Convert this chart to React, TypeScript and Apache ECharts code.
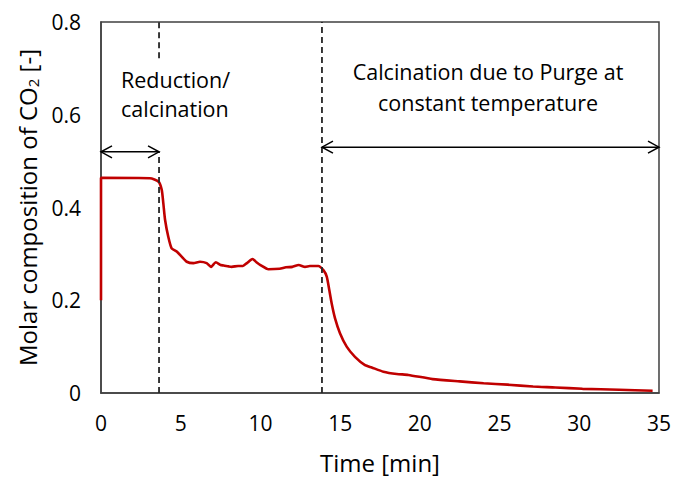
import React, { useEffect, useRef } from "react";
import * as echarts from "echarts";

// Outlet CO2 molar fraction over time
const timeMin = [
  0, 0, 0.05, 3.07, 3.6, 3.81, 3.91, 4.02, 4.22, 4.43, 4.75, 5.06, 5.38, 5.79, 6.21, 6.63,
  6.9, 7.2, 7.5, 7.7, 8.0, 8.2, 8.6, 8.9, 9.15, 9.5, 9.75, 10.0, 10.5, 11.2, 11.6, 12.0, 12.4,
  12.8, 13.1, 13.63, 13.95, 14.16, 14.32, 14.47, 14.68, 14.99, 15.41, 15.93, 16.56, 16.98,
  17.71, 18.55, 19.28, 20.8, 22.5, 24.0, 25.5, 27.1, 28.5, 30.2, 32.5, 34.6,
];
const co2Fraction = [
  0.2, 0.464, 0.464, 0.463, 0.456, 0.438, 0.409, 0.373, 0.337, 0.312, 0.305, 0.294, 0.283,
  0.28, 0.283, 0.28, 0.272, 0.282, 0.276, 0.275, 0.273, 0.272, 0.274, 0.274, 0.28, 0.289,
  0.282, 0.276, 0.267, 0.268, 0.271, 0.272, 0.276, 0.272, 0.274, 0.274, 0.265, 0.251, 0.222,
  0.193, 0.161, 0.129, 0.1, 0.078, 0.06, 0.055, 0.046, 0.041, 0.039, 0.03, 0.025, 0.021, 0.018,
  0.014, 0.012, 0.009, 0.007, 0.005,
];

// Phase boundaries (min) and the dashed divider segments: [time, yFrom, yTo]
const phaseBoundaries = [3.64, 13.86];
const dividerSegments = [
  [phaseBoundaries[0], 0, 0.52],
  [phaseBoundaries[0], 0.722, 0.8],
  [phaseBoundaries[1], 0, 0.8],
];
// Double-headed span arrows: [tStart, tEnd, y]
const spanArrows = [
  [0, phaseBoundaries[0], 0.52],
  [phaseBoundaries[1], 35, 0.53],
];

const FONT = "Open Sans";

export default function App() {
  const ref = useRef<HTMLDivElement>(null);

  useEffect(() => {
    document.body.style.margin = "0";
    const chart = echarts.init(ref.current!, null, { renderer: "svg" });

    const option: echarts.EChartsOption = {
      animation: false,
      backgroundColor: "#ffffff",
      grid: {
        left: 101,
        right: 15,
        top: 22,
        bottom: 87,
        show: true,
        borderColor: "#404040",
        borderWidth: 1.5,
      },
      xAxis: {
        type: "value",
        min: 0,
        max: 35,
        interval: 5,
        name: "Time [min]",
        nameLocation: "middle",
        nameGap: 57,
        nameTextStyle: { fontFamily: FONT, fontSize: 24, color: "#000" },
        axisLine: { show: true, lineStyle: { color: "#404040", width: 1.5 } },
        axisTick: { show: false },
        splitLine: { show: false },
        axisLabel: { fontFamily: FONT, fontSize: 21, color: "#000", margin: 19 },
      },
      yAxis: {
        type: "value",
        min: 0,
        max: 0.8,
        interval: 0.2,
        name: "Molar composition of CO{sub|2} [-]",
        nameLocation: "middle",
        nameGap: 60,
        nameTextStyle: {
          fontFamily: FONT,
          fontSize: 24,
          color: "#000",
          rich: {
            sub: { fontFamily: FONT, fontSize: 15, color: "#000", padding: [11, 0, 0, 0] },
          },
        },
        axisLine: { show: true, lineStyle: { color: "#404040", width: 1.5 } },
        axisTick: { show: false },
        splitLine: { show: false },
        axisLabel: {
          fontFamily: FONT,
          fontSize: 21,
          color: "#000",
          margin: 20,
          formatter: (v: number) => (v === 0 ? "0" : v.toFixed(1)),
        },
      },
      series: [
        {
          type: "line",
          data: timeMin.map((t, i) => [t, co2Fraction[i]]),
          showSymbol: false,
          symbol: "none",
          smooth: 0.2,
          lineStyle: { color: "#C00000", width: 2.6 },
          z: 3,
        },
        {
          type: "custom",
          data: dividerSegments,
          encode: { x: 0, y: [1, 2] },
          z: 4,
          renderItem: (_params: any, api: any) => {
            const p0 = api.coord([api.value(0), api.value(1)]);
            const p1 = api.coord([api.value(0), api.value(2)]);
            return {
              type: "line",
              shape: { x1: p0[0], y1: p0[1], x2: p1[0], y2: p1[1] },
              style: { stroke: "#262626", lineWidth: 1.8, lineDash: [6, 4] },
            };
          },
        },
        {
          type: "custom",
          data: spanArrows,
          encode: { x: [0, 1], y: 2 },
          z: 4,
          renderItem: (_params: any, api: any) => {
            const a = api.coord([api.value(0), api.value(2)]);
            const b = api.coord([api.value(1), api.value(2)]);
            const head = 11;
            const half = 6;
            const style = { stroke: "#000", lineWidth: 1.5, fill: "none" };
            return {
              type: "group",
              children: [
                { type: "line", shape: { x1: a[0], y1: a[1], x2: b[0], y2: b[1] }, style },
                {
                  type: "polyline",
                  shape: {
                    points: [
                      [a[0] + head, a[1] - half],
                      [a[0], a[1]],
                      [a[0] + head, a[1] + half],
                    ],
                  },
                  style,
                },
                {
                  type: "polyline",
                  shape: {
                    points: [
                      [b[0] - head, b[1] - half],
                      [b[0], b[1]],
                      [b[0] - head, b[1] + half],
                    ],
                  },
                  style,
                },
              ],
            };
          },
        },
      ],
      graphic: [
        {
          type: "text",
          left: 121,
          top: 65,
          style: {
            text: "Reduction/\ncalcination",
            fontFamily: FONT,
            fontSize: 21.5,
            lineHeight: 29,
            fill: "#000",
          },
        },
        {
          type: "text",
          x: 488,
          y: 56,
          style: {
            text: "Calcination due to Purge at\nconstant temperature",
            fontFamily: FONT,
            fontSize: 21.5,
            lineHeight: 31,
            align: "center",
            fill: "#000",
          },
        },
      ],
    };

    chart.setOption(option);
    return () => chart.dispose();
  }, []);

  return <div ref={ref} style={{ width: 674, height: 480 }} />;
}
